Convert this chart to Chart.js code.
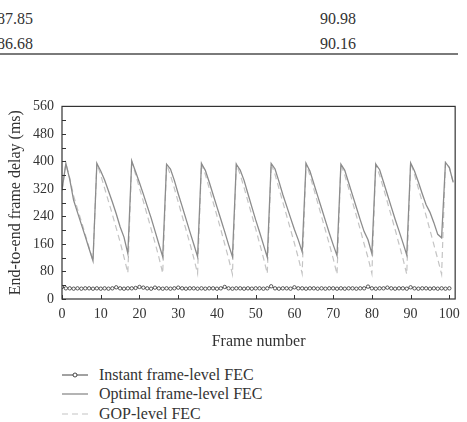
<!DOCTYPE html>
<html>
<head>
<meta charset="utf-8">
<script src="https://cdn.jsdelivr.net/npm/chart.js@4.4.1/dist/chart.umd.min.js"></script>
<style>
  body { margin: 0; width: 467px; height: 422px; background: #fff; position: relative; overflow: hidden;
         font-family: "Liberation Serif", "DejaVu Serif", serif; color: #333; }
  .cell { position: absolute; font-size: 16px; line-height: 16px; }
  #regle { position: absolute; left: 0; top: 53px; width: 458px; height: 2px; background: #7a7a7a; }
  #grafico { position: absolute; left: 0; top: 90px; }
  #legenda { position: absolute; left: 62px; top: 365px; font-size: 16px; }
  .item { height: 19.5px; display: flex; align-items: center; }
  .item svg { margin-right: 11px; }
</style>
</head>
<body>
<!-- pedaço da tabela acima da figura -->
<div class="cell" style="left:-3px; top:11px">87.85</div>
<div class="cell" style="left:320px; top:11px">90.98</div>
<div class="cell" style="left:-3px; top:36px">86.68</div>
<div class="cell" style="left:320px; top:36px">90.16</div>
<div id="regle"></div>

<canvas id="grafico" width="467" height="273"></canvas>
<div id="legenda"></div>

<script>
// numero do quadro (eixo x)
const quadros = [0,1,2,3,4,5,6,7,8,9,10,11,12,13,14,15,16,17,18,19,20,21,22,23,24,25,26,27,28,29,30,
  31,32,33,34,35,36,37,38,39,40,41,42,43,44,45,46,47,48,49,50,51,52,53,54,55,56,57,58,59,60,
  61,62,63,64,65,66,67,68,69,70,71,72,73,74,75,76,77,78,79,80,81,82,83,84,85,86,87,88,89,90,
  91,92,93,94,95,96,97,98,99,100,101];

// atraso (ms) - FEC instantaneo por quadro (0..100)
const atrasoInstant = [35,31,31,30,31,30,31,31,30,31,30,31,30,31,34,31,30,31,31,32,35,33,31,30,33,31,30,31,30,31,
  33,31,30,31,31,30,31,30,31,31,30,31,35,31,30,31,31,30,31,30,31,31,30,31,37,31,30,31,31,30,
  34,31,31,30,31,31,30,31,30,31,31,30,31,30,31,31,30,31,31,36,31,30,31,31,33,31,30,31,31,30,
  34,31,30,31,31,30,31,30,31,30,31];

// atraso (ms) - FEC otimo por quadro
const atrasoOtimo = [316,394,348,287,252,217,182,146,111,
  394,372,346,314,282,248,210,180,132,
  401,370,338,305,270,236,198,160,123,
  392,378,345,306,270,233,196,160,123,
  394,374,340,304,268,232,196,158,123,
  392,375,345,306,268,230,195,158,121,
  394,378,342,304,270,236,202,172,137,
  394,372,336,300,264,228,192,158,126,
  392,374,338,302,266,230,196,172,132,
  392,376,340,304,268,232,198,164,128,
  396,372,340,306,274,252,222,188,178,
  397,382,339];

// atraso (ms) - FEC por GOP
const atrasoGop = [316,394,352,300,262,226,188,150,111,
  394,360,322,284,246,206,166,122,76,
  401,362,322,284,244,204,164,122,75,
  392,360,322,282,242,202,162,120,74,
  394,362,322,282,242,202,160,118,72,
  392,362,324,284,244,204,162,120,74,
  394,362,322,282,242,202,162,120,74,
  394,360,320,280,240,200,160,118,72,
  392,360,322,282,242,202,160,120,74,
  392,360,322,282,242,202,160,118,72,
  396,362,322,282,242,200,158,116,72,
  397,382,339];

const ticksY = [0,80,160,240,320,400,480,560];
const ticksX = [0,10,20,30,40,50,60,70,80,90,100];

function pontos(valores) {
  return valores.map((v, i) => ({ x: quadros[i], y: v }));
}

// moldura e tracinhos internos
const moldura = {
  id: 'moldura',
  afterDraw(chart) {
    const { ctx, chartArea: a, scales } = chart;
    ctx.save();
    ctx.strokeStyle = '#333';
    ctx.lineWidth = 1.2;
    ctx.strokeRect(a.left, a.top, a.right - a.left, a.bottom - a.top);
    ctx.lineWidth = 1;
    ctx.beginPath();
    for (let v = 0; v <= 560; v += 40) {
      const y = Math.round(scales.y.getPixelForValue(v)) + 0.5;
      ctx.moveTo(a.left, y); ctx.lineTo(a.left + 4, y);
    }
    ticksX.forEach(v => {
      const x = Math.round(scales.x.getPixelForValue(v)) + 0.5;
      ctx.moveTo(x, a.bottom); ctx.lineTo(x, a.bottom - 4);
    });
    ctx.stroke();
    ctx.restore();
  }
};

const fonteTick = { family: 'Liberation Serif', size: 14 };
const fonteTitulo = { family: 'Liberation Serif', size: 16 };

const grafico = new Chart(document.getElementById('grafico'), {
  type: 'line',
  data: {
    datasets: [
      {
        label: 'Instant frame-level FEC',
        data: pontos(atrasoInstant),
        borderColor: '#444',
        borderWidth: 1,
        pointRadius: 1.7,
        pointBackgroundColor: '#fff',
        pointBorderColor: '#333',
        pointBorderWidth: 0.8,
        order: 1,
      },
      {
        label: 'Optimal frame-level FEC',
        data: pontos(atrasoOtimo),
        borderColor: '#8c8c8c',
        borderWidth: 1.3,
        pointRadius: 0,
        order: 2,
      },
      {
        label: 'GOP-level FEC',
        data: pontos(atrasoGop),
        borderColor: '#c4c4c4',
        borderWidth: 1.2,
        borderDash: [6, 4],
        pointRadius: 0,
        order: 3,
      },
    ],
  },
  options: {
    responsive: false,
    animation: false,
    layout: { padding: { top: 16, right: 10, bottom: 12, left: 0 } },
    plugins: { legend: { display: false }, tooltip: { enabled: false } },
    scales: {
      x: {
        type: 'linear',
        min: 0,
        max: 101.5,
        afterBuildTicks: s => { s.ticks = ticksX.map(v => ({ value: v })); },
        ticks: { font: fonteTick, color: '#333', padding: 7, maxRotation: 0 },
        grid: { display: false, drawTicks: false },
        border: { display: false },
        title: { display: true, text: 'Frame number', font: fonteTitulo, color: '#333', padding: { top: 2, bottom: 0 } },
      },
      y: {
        min: 0,
        max: 560,
        afterBuildTicks: s => { s.ticks = ticksY.map(v => ({ value: v })); },
        afterFit: s => { s.width = 62; },
        ticks: { font: fonteTick, color: '#333', padding: 8 },
        grid: { display: false, drawTicks: false },
        border: { display: false },
        title: { display: true, text: 'End-to-end frame delay (ms)', font: fonteTitulo, color: '#333', padding: { top: 6, bottom: 0 } },
      },
    },
  },
  plugins: [moldura],
});

// legenda feita a mao, em coluna
const legenda = document.getElementById('legenda');
grafico.data.datasets.forEach(ds => {
  const dash = ds.borderDash ? `stroke-dasharray="${ds.borderDash.join(' ')}"` : '';
  const marca = ds.pointRadius ? `<circle cx="13" cy="6" r="2" fill="#fff" stroke="#333" stroke-width="0.9"/>` : '';
  const item = document.createElement('div');
  item.className = 'item';
  item.innerHTML = `<svg width="26" height="12"><line x1="0" y1="6" x2="26" y2="6" stroke="${ds.borderColor}" stroke-width="${ds.borderWidth}" ${dash}/>${marca}</svg><span>${ds.label}</span>`;
  legenda.appendChild(item);
});
</script>
</body>
</html>
